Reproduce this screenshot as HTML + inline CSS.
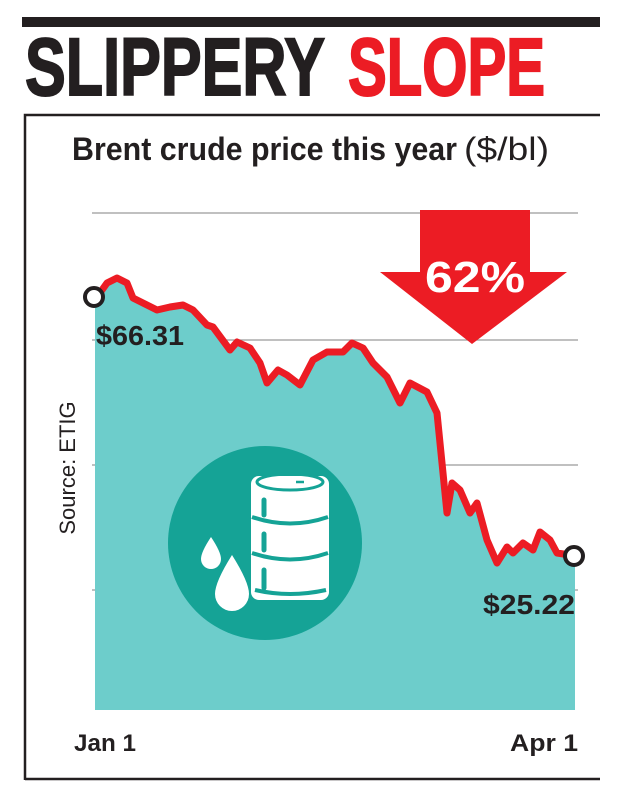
<!DOCTYPE html>
<html><head><meta charset="utf-8"><style>
body{margin:0;background:#fff;}
svg{display:block}
text{font-family:"Liberation Sans",sans-serif;}
</style></head><body>
<svg width="622" height="800" viewBox="0 0 622 800">
<rect x="22" y="17" width="578" height="10" fill="#231f20"/>
<text x="25" y="95" font-size="82" font-weight="bold" textLength="300" lengthAdjust="spacingAndGlyphs" fill="#231f20" stroke="#231f20" stroke-width="2">SLIPPERY</text>
<text x="348" y="95" font-size="82" font-weight="bold" textLength="197" lengthAdjust="spacingAndGlyphs" fill="#ec1c24" stroke="#ec1c24" stroke-width="2">SLOPE</text>
<path d="M25 780 V115 H600" stroke="#231f20" stroke-width="2.5" fill="none"/>
<line x1="25" y1="779" x2="600" y2="779" stroke="#231f20" stroke-width="2.5"/>
<text x="72" y="160" font-size="32" font-weight="bold" textLength="385" lengthAdjust="spacingAndGlyphs" fill="#231f20">Brent crude price this year</text>
<text x="464" y="160" font-size="32" textLength="85" lengthAdjust="spacingAndGlyphs" fill="#231f20">($/bl)</text>
<g stroke="#9a9a9a" stroke-width="1.2">
<line x1="92" y1="213" x2="578" y2="213"/><line x1="92" y1="340" x2="578" y2="340"/>
<line x1="92" y1="465" x2="578" y2="465"/><line x1="92" y1="590" x2="578" y2="590"/>
</g>
<path d="M95 297 L107 283 L117 278 L127 283 L133 298 L157 310 L170 307 L183 305 L193 310 L207 325 L213 327 L230 350 L237 342 L250 348 L260 363 L267 383 L278 370 L287 375 L300 385 L313 360 L327 352 L343 352 L352 343 L363 348 L373 363 L387 377 L400 403 L410 383 L427 392 L437 413 L447 513 L452 483 L460 490 L470 513 L477 503 L487 540 L497 563 L507 547 L513 553 L523 543 L533 550 L540 532 L550 540 L557 553 L575 555 L575 710 L95 710 Z" fill="#6dcdcb"/>
<path d="M97 297 L107 283 L117 278 L127 283 L133 298 L157 310 L170 307 L183 305 L193 310 L207 325 L213 327 L230 350 L237 342 L250 348 L260 363 L267 383 L278 370 L287 375 L300 385 L313 360 L327 352 L343 352 L352 343 L363 348 L373 363 L387 377 L400 403 L410 383 L427 392 L437 413 L447 513 L452 483 L460 490 L470 513 L477 503 L487 540 L497 563 L507 547 L513 553 L523 543 L533 550 L540 532 L550 540 L557 553 L570 555" fill="none" stroke="#ec1c24" stroke-width="7" stroke-linejoin="round"/>
<circle cx="94" cy="297" r="9" fill="#fff" stroke="#231f20" stroke-width="4"/>
<circle cx="574" cy="556" r="9" fill="#fff" stroke="#231f20" stroke-width="4"/>
<path d="M420 210 H530 V272 H567 L472 344 L380 272 H420 Z" fill="#ec1c24"/>
<text x="475" y="292" font-size="44" font-weight="bold" fill="#fff" text-anchor="middle" textLength="100" lengthAdjust="spacingAndGlyphs">62%</text>
<text x="96" y="345" font-size="28" font-weight="bold" fill="#231f20" textLength="88" lengthAdjust="spacingAndGlyphs">$66.31</text>
<text x="483" y="614" font-size="28" font-weight="bold" fill="#231f20" textLength="92" lengthAdjust="spacingAndGlyphs">$25.22</text>
<circle cx="265" cy="543" r="97" fill="#15a396"/>
<rect x="251" y="476" width="78" height="124" rx="8" fill="#fff"/>
<ellipse cx="290" cy="482" rx="33" ry="8" fill="none" stroke="#15a396" stroke-width="3"/>
<line x1="296" y1="482" x2="304" y2="482" stroke="#15a396" stroke-width="2.5"/>
<g fill="none" stroke="#15a396" stroke-width="4">
<path d="M252 517 Q290 530 328 517"/><path d="M252 553 Q290 566 328 553"/><path d="M255 590 Q290 598 326 590"/>
</g>
<g stroke="#15a396" stroke-width="5" stroke-linecap="round">
<line x1="264" y1="500" x2="264" y2="515"/><line x1="264" y1="534" x2="264" y2="550"/><line x1="264" y1="570" x2="264" y2="588"/>
</g>
<path d="M232 555 Q249 582 249 594 A17 17 0 0 1 215 594 Q215 582 232 555 Z" fill="#fff"/>
<path d="M211 537 Q221 552 221 559 A10 10 0 0 1 201 559 Q201 552 211 537 Z" fill="#fff"/>
<text transform="translate(75,468) rotate(-90)" font-size="22" fill="#231f20" text-anchor="middle">Source: ETIG</text>
<text x="74" y="751" font-size="24" font-weight="bold" fill="#231f20" textLength="62" lengthAdjust="spacingAndGlyphs">Jan 1</text>
<text x="510" y="751" font-size="24" font-weight="bold" fill="#231f20" textLength="68" lengthAdjust="spacingAndGlyphs">Apr 1</text>
</svg>
</body></html>
